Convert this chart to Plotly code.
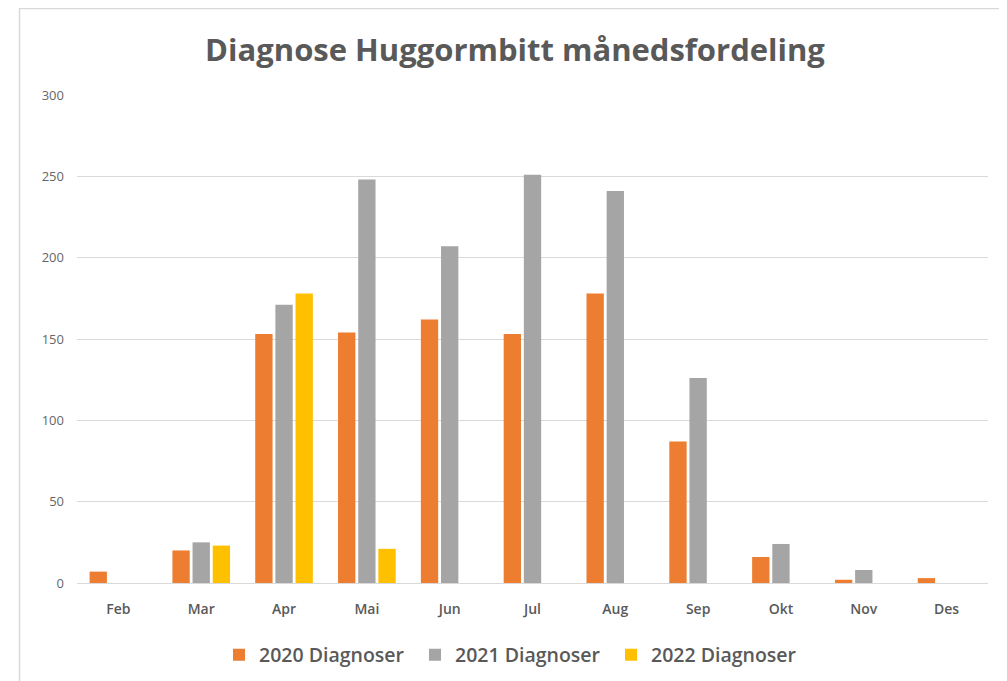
import plotly.graph_objects as go

months = ["Feb", "Mar", "Apr", "Mai", "Jun", "Jul", "Aug", "Sep", "Okt", "Nov", "Des"]
diag_2020 = [7, 20, 153, 154, 162, 153, 178, 87, 16, 2, 3]
diag_2021 = [None, 25, 171, 248, 207, 251, 241, 126, 24, 8, None]
diag_2022 = [None, 23, 178, 21, None, None, None, None, None, None, None]
y_ticks = [0, 50, 100, 150, 200, 250, 300]

series = [
    ("2020 Diagnoser", diag_2020, "#ED7D31"),
    ("2021 Diagnoser", diag_2021, "#A5A5A5"),
    ("2022 Diagnoser", diag_2022, "#FFC000"),
]

fig = go.Figure()
for name, vals, color in series:
    fig.add_trace(go.Bar(x=months, y=vals, name=name, marker_color=color,
                         marker_line_width=0))

W, H = 999, 673
font_fam = "Open Sans, Lato, sans-serif"
fig.update_layout(
    width=W, height=H,
    paper_bgcolor="white", plot_bgcolor="white",
    margin=dict(l=69, r=19, t=87, b=98, autoexpand=False),
    barmode="group", bargap=0.27, bargroupgap=0.14,
    title=dict(text="<b>Diagnose Huggormbitt månedsfordeling</b>",
               x=507 / W, xanchor="center", y=1 - 42 / H, yanchor="middle",
               font=dict(family=font_fam, size=31, color="#595959")),
    font=dict(family=font_fam, color="#595959"),
    legend=dict(orientation="h", xref="container", x=211 / W, xanchor="left",
                yref="container", y=1 - 647 / H, yanchor="middle",
                font=dict(size=19.5, color="#595959", weight=600), itemwidth=30,
                entrywidth=151, entrywidthmode="pixels",
                traceorder="normal"),
    xaxis=dict(showgrid=False, showline=True, linecolor="#D9D9D9", linewidth=1,
               ticks="", tickfont=dict(size=14, color="#595959", weight=600),
               ticklabelstandoff=13, automargin=False),
    yaxis=dict(range=[0, 300], tickvals=y_ticks, showgrid=True, gridcolor="#D9D9D9",
               gridwidth=1, zeroline=False, showline=False, ticks="",
               tickfont=dict(size=13, color="#666666"),
               ticklabelstandoff=12, automargin=False),
    shapes=[dict(type="rect", xref="paper", yref="paper",
                 x0=(11.5 - 69) / 911, x1=1.05, y0=-0.5, y1=1 + 86.5 / 488,
                 line=dict(color="#D9D9D9", width=1.5), fillcolor="rgba(0,0,0,0)",
                 layer="below")],
)

fig.write_html("out.html")
